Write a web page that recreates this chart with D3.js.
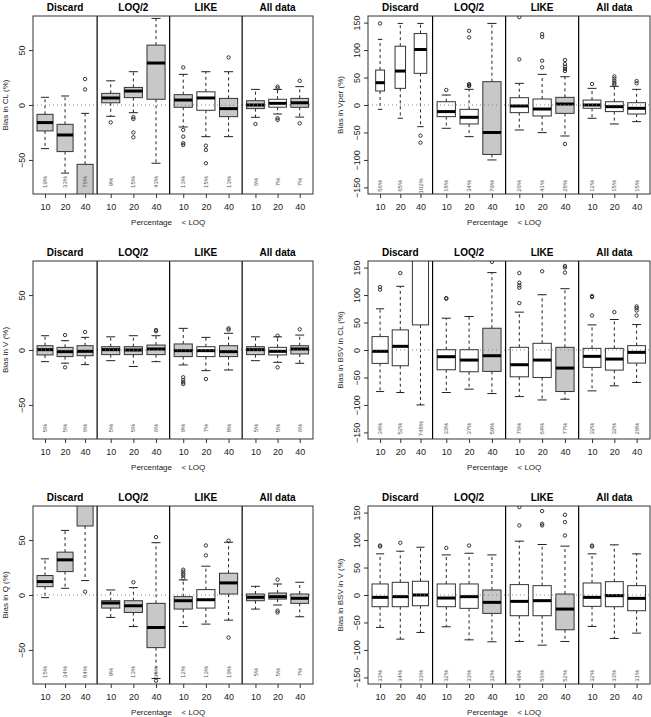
<!DOCTYPE html>
<html><head><meta charset="utf-8">
<script src="https://cdn.jsdelivr.net/npm/d3@7"></script>
<style>body{margin:0;background:#fff}svg text{font-family:"Liberation Sans",Arial,Helvetica,sans-serif}</style>
</head><body><svg id="c" width="651" height="717"></svg>
<script>
const methods = ["Discard", "LOQ/2", "LIKE", "All data"];
const pctLevels = ["10", "20", "40"];
const ticksSmall = [-50, 0, 50];
const ticksLarge = [-150, -100, -50, 0, 50, 100, 150];

// each box: [lower whisker, Q1, median, Q3, upper whisker]
const clStats = [[-39.7,-23.6,-16,-8.5,7],[-62,-42.4,-27.3,-17.6,8.2],[-200,-130,-95,-54,-7.6],
  [-10.3,2,6.4,10.6,22],[-7,6.7,12.7,16,30.3],[-53,5.2,38.2,54.5,78.8],
  [-20,-2.1,4.5,9.4,27.9],[-28.8,-4.8,6.4,12,30.3],[-28.8,-10.6,-3.3,6,30.3],
  [-11.2,-3.3,0,3.9,14.2],[-8.2,-2,1.5,5.2,14.2],[-11,-2.1,2,6,16.7]];
const clOut = [[],[],[23.6,14.2],[-15.8],[-11,-12.7,-25,-29.4],[],[34.2,-22.7,-28.8,-34.8,-36.4],[-37,-41,-53],[43.3],[-17.3],[16.7,15.2,-12,-13.6],[22,-16.7]];
const clFill = [1,1,1,1,1,1,1,0,1,1,0,1];
const clPct = ["19%","33%","76%","9%","15%","43%","13%","15%","13%","6%","7%","7%"];

const vperStats = [[-7.9,25.5,40.6,63.6,119.4],[-24.2,30.3,61.8,107,148.5],[-39.4,57.6,101,130,148.5],
  [-42.4,-21.2,-12,6,18.2],[-57.6,-34.5,-22.4,-7.9,28.5],[-100,-90,-50,42.4,148.5],
  [-45.5,-13.9,-1.8,13.3,39.4],[-50.3,-20,-7.3,10.9,55.8],[-56.4,-15.2,1.8,13.9,51.5],
  [-24.2,-6,0,9,30.3],[-34.5,-12,-3,6,34],[-30.3,-16.4,-6,4.2,28.5]];
const vperOut = [[148.5],[],[-55.8,-68.5],[27.3],[135,123,38,35.8,34.5],[],[160,83],[129,124,80.6,68.5],[81.8,74.5,69.7,65.5,61.8,-70.9],[38.2],[52,48,44,40,37],[43.6,39.4]];
const vperFill = [0,0,0,0,0,1,0,0,1,0,0,0];
const vperPct = ["56%","65%","102%","18%","34%","79%","26%","41%","28%","12%","15%","15%"];
const vperRelN = [0.55,0.65,0.78,1,1,1,1,1,1,1,1,1];

const vStats = [[-10.6,-4.5,0.3,3.9,13],[-12,-6,-1.5,2.4,8.5],[-13.3,-5.2,-1.2,3.9,11.5],
  [-9.7,-4.2,0.3,3,12],[-15,-4.2,0,3,13],[-10.6,-4.2,0.9,4.5,13],
  [-13.6,-6,-0.6,5.5,19.7],[-18.8,-6,-0.6,3,11.5],[-18.2,-6,-1.5,3.9,15.2],
  [-9.7,-4.2,0.3,3,12],[-11.2,-4.5,-1.2,2.4,12],[-12.1,-3.6,0.9,3.9,13.6]];
const vOut = [[],[13.6,-15.8],[16.4],[],[],[18.2,17],[-24.8,-27.3,-29.4,-31],[-26.4],[19.7,18.5],[],[13,-15.8],[18.8]];
const vFill = [1,1,1,1,1,1,1,0,1,1,0,1];
const vPct = ["5%","5%","6%","5%","5%","6%","9%","7%","8%","5%","5%","6%"];

const bclStats = [[-75.6,-24.4,-2.4,24.4,75],[-77.4,-28.7,6.7,36.6,115.9],[-100,45.7,220,300,400],
  [-77.4,-36,-12.2,0.6,57.9],[-71.3,-39.6,-18.3,0.6,61],[-79.3,-39,-10.4,39.6,140.9],
  [-84.8,-48.8,-26.8,4.9,68.9],[-90.9,-50,-18.3,12.2,100.6],[-89.6,-75.6,-32.9,4.9,111.6],
  [-74.4,-31.7,-11.6,3,45.7],[-65.2,-36.6,-16.5,3,55.5],[-59.1,-23.8,-4.3,7.9,46.3]];
const bclOut = [[114.6,109.8],[140],[],[94.5,93.3],[],[160.4],[140,122.6,117.7,113.4,85.4],[143.3],[153,150,140.9],[98.2,96.3,62.8],[68.9],[79.3,76.2,72,62.8]];
const bclFill = [0,0,0,0,0,1,0,0,1,0,0,0];
const bclPct = ["34%","52%","748%","33%","37%","59%","76%","64%","77%","32%","32%","29%"];

const qStats = [[-2.4,7.6,12.2,17.7,32.9],[6.1,21.3,32,39,58.8],[13.1,62.8,100,130,200],
  [-20.4,-11.9,-7.3,-5.2,4.6],[-28.7,-15.9,-9.8,-5.2,6.7],[-76,-47.9,-29.6,-7.6,47.6],
  [-28.7,-12.8,-5.2,-1.5,13.7],[-26.5,-11.9,-4.3,4.9,26.2],[-22.9,0.9,11,19.8,48],
  [-12.8,-5.2,-2.1,0.9,7.9],[-9.1,-3.7,-1.5,1.8,10],[-19.8,-7.6,-3,0.9,11.6]];
const qOut = [[],[],[3],[],[11.6],[52.7,-78],[23,21.3,19.2,17.7,15.2],[45.1,36],[49.5,-38.7],[],[14,-14.3,-15.9],[]];
const qFill = [1,1,1,1,1,1,1,0,1,1,1,1];
const qPct = ["15%","34%","84%","9%","13%","35%","12%","13%","19%","5%","5%","7%"];

const bvStats = [[-59,-21.3,-4.3,20.1,74.9],[-80.3,-21.3,-3,23.1,79.7],[-68.2,-19.5,0,25,87],
  [-57.8,-21.3,-5.5,20.1,73],[-81.6,-24.3,-3,20.1,76],[-85.2,-33.5,-13.4,9.1,73],
  [-84.6,-37.7,-11.6,18.9,98],[-91.3,-37.7,-10.3,17,91.9],[-84.6,-63.3,-25.6,1.8,88.9],
  [-57.2,-20.7,-4.3,21.9,74.9],[-79.1,-21.3,-1.2,24.3,91.3],[-69.4,-28.6,-6.1,17,74.9]];
const bvOut = [[90,88.3],[95],[],[85.8],[90],[],[160,126.6],[152.8,129.6,126.6],[146,132.7,108.3],[90,88.3],[],[]];
const bvFill = [0,0,0,0,0,1,0,0,1,0,0,0];
const bvPct = ["33%","34%","33%","32%","33%","32%","49%","56%","52%","32%","33%","31%"];

const panels = [
  {stats: clStats, out: clOut, fill: clFill, pct: clPct, ylab: "Bias in CL (%)", ticks: ticksSmall, lim: 81, pctY: -70, col: 0, row: 0},
  {stats: vperStats, out: vperOut, fill: vperFill, pct: vperPct, rel: vperRelN, ylab: "Bias in Vper (%)", ticks: ticksLarge, lim: 162, pctY: -147, col: 1, row: 0},
  {stats: vStats, out: vOut, fill: vFill, pct: vPct, ylab: "Bias in V (%)", ticks: ticksSmall, lim: 81, pctY: -71, col: 0, row: 1},
  {stats: bclStats, out: bclOut, fill: bclFill, pct: bclPct, ylab: "Bias in BSV in CL (%)", ticks: ticksLarge, lim: 162, pctY: -143, col: 1, row: 1},
  {stats: qStats, out: qOut, fill: qFill, pct: qPct, ylab: "Bias in Q (%)", ticks: ticksSmall, lim: 81, pctY: -70, col: 0, row: 2},
  {stats: bvStats, out: bvOut, fill: bvFill, pct: bvPct, ylab: "Bias in BSV in V (%)", ticks: ticksLarge, lim: 162, pctY: -147, col: 1, row: 2}
];

const svg = d3.select("#c");
const colX = [[33, 313], [368, 650]];
const rowTop = [16, 261, 506];
const plotH = 178;
const groupFr = [0, 0.229, 0.488, 0.747, 1];
const frame = "#333";

panels.forEach((p, pi) => {
  const [L, R] = colX[p.col];
  const T = rowTop[p.row], B = T + plotH;
  const y = d3.scaleLinear().domain([-p.lim, p.lim]).range([B, T]);
  const g = svg.append("g");
  const cid = "clip" + pi;
  svg.append("clipPath").attr("id", cid).append("rect").attr("x", L).attr("y", T).attr("width", R - L).attr("height", plotH);
  const inner = g.append("g").attr("clip-path", `url(#${cid})`);
  const edges = groupFr.map(f => L + f * (R - L));

  methods.forEach((m, gi) => {
    const xs = d3.scaleLinear().domain([0.4, 3.6]).range([edges[gi], edges[gi + 1]]);
    g.append("text").attr("x", (edges[gi] + edges[gi + 1]) / 2).attr("y", T - 9).attr("dy", "0.35em")
      .attr("text-anchor", "middle").attr("font-size", 10).attr("font-weight", "bold").text(m);
    const ax = g.append("g").attr("transform", `translate(0,${B})`)
      .call(d3.axisBottom(xs).tickValues([1, 2, 3]).tickFormat((d, i) => pctLevels[i]).tickSize(4).tickPadding(6));
    ax.select(".domain").remove();
    ax.selectAll("line").attr("stroke", frame);
    ax.selectAll("text").attr("font-size", 9).attr("fill", "#222").attr("font-family", null);

    pctLevels.forEach((lv, i) => {
      const idx = gi * 3 + i;
      const s = p.stats[idx];
      const cx = xs(i + 1);
      const rel = p.rel ? p.rel[idx] : 1;
      const bw = 0.8 * (xs(2) - xs(1)) * rel;
      const cw = (xs(2) - xs(1)) * 0.4 * rel;
      inner.append("line").attr("x1", cx).attr("x2", cx).attr("y1", y(s[3])).attr("y2", y(s[4]))
        .attr("stroke", "#222").attr("stroke-dasharray", "3,3");
      inner.append("line").attr("x1", cx).attr("x2", cx).attr("y1", y(s[1])).attr("y2", y(s[0]))
        .attr("stroke", "#222").attr("stroke-dasharray", "3,3");
      [s[0], s[4]].forEach(v => inner.append("line").attr("x1", cx - cw / 2).attr("x2", cx + cw / 2)
        .attr("y1", y(v)).attr("y2", y(v)).attr("stroke", "#222"));
      inner.append("rect").attr("x", cx - bw / 2).attr("width", bw)
        .attr("y", y(s[3])).attr("height", y(s[1]) - y(s[3]))
        .attr("fill", p.fill[idx] ? "#c8c8c8" : "#fff").attr("stroke", "#333").attr("stroke-width", 1);
      inner.append("line").attr("x1", cx - bw / 2).attr("x2", cx + bw / 2).attr("y1", y(s[2])).attr("y2", y(s[2]))
        .attr("stroke", "#000").attr("stroke-width", 3);
      p.out[idx].forEach(v => inner.append("circle").attr("cx", cx).attr("cy", y(v)).attr("r", 1.7)
        .attr("fill", "none").attr("stroke", "#222").attr("stroke-width", 0.9));
      g.append("text").attr("transform", `translate(${cx},${y(p.pctY)}) rotate(-90)`).attr("dy", "0.35em")
        .attr("text-anchor", "middle").attr("font-size", 6).attr("fill", "#555").text(p.pct[idx]);
    });
  });

  // dotted zero reference line
  g.append("line").attr("x1", L).attr("x2", R).attr("y1", y(0)).attr("y2", y(0))
    .attr("stroke", "#888").attr("stroke-dasharray", "1,3").attr("stroke-width", 1);
  edges.slice(1, 4).forEach(e => g.append("line").attr("x1", e).attr("x2", e).attr("y1", T).attr("y2", B)
    .attr("stroke", "#000").attr("stroke-width", 1.2));
  g.append("rect").attr("x", L).attr("y", T).attr("width", R - L).attr("height", plotH)
    .attr("fill", "none").attr("stroke", frame).attr("stroke-width", 1);

  const ay = g.append("g").attr("transform", `translate(${L},0)`)
    .call(d3.axisLeft(y).tickValues(p.ticks).tickSize(4));
  ay.select(".domain").remove();
  ay.selectAll("line").attr("stroke", frame);
  ay.selectAll("text").attr("x", null).attr("dy", "0.35em").attr("text-anchor", "middle")
    .attr("transform", "translate(-11,0) rotate(-90)").attr("font-size", 9).attr("fill", "#222").attr("font-family", null);

  g.append("text").attr("transform", `translate(${L - 28},${(T + B) / 2}) rotate(-90)`).attr("dy", "0.35em")
    .attr("text-anchor", "middle").attr("font-size", 8).attr("fill", "#222").text(p.ylab);
  const cxm = (L + R) / 2;
  g.append("text").attr("x", cxm - 1).attr("y", B + 28).attr("dy", "0.35em").attr("text-anchor", "end")
    .attr("font-size", 8).attr("fill", "#222").text("Percentage");
  g.append("text").attr("x", cxm + 8.5).attr("y", B + 28).attr("dy", "0.35em").attr("text-anchor", "start")
    .attr("font-size", 8).attr("fill", "#222").text("< LOQ");
});
</script></body></html>
